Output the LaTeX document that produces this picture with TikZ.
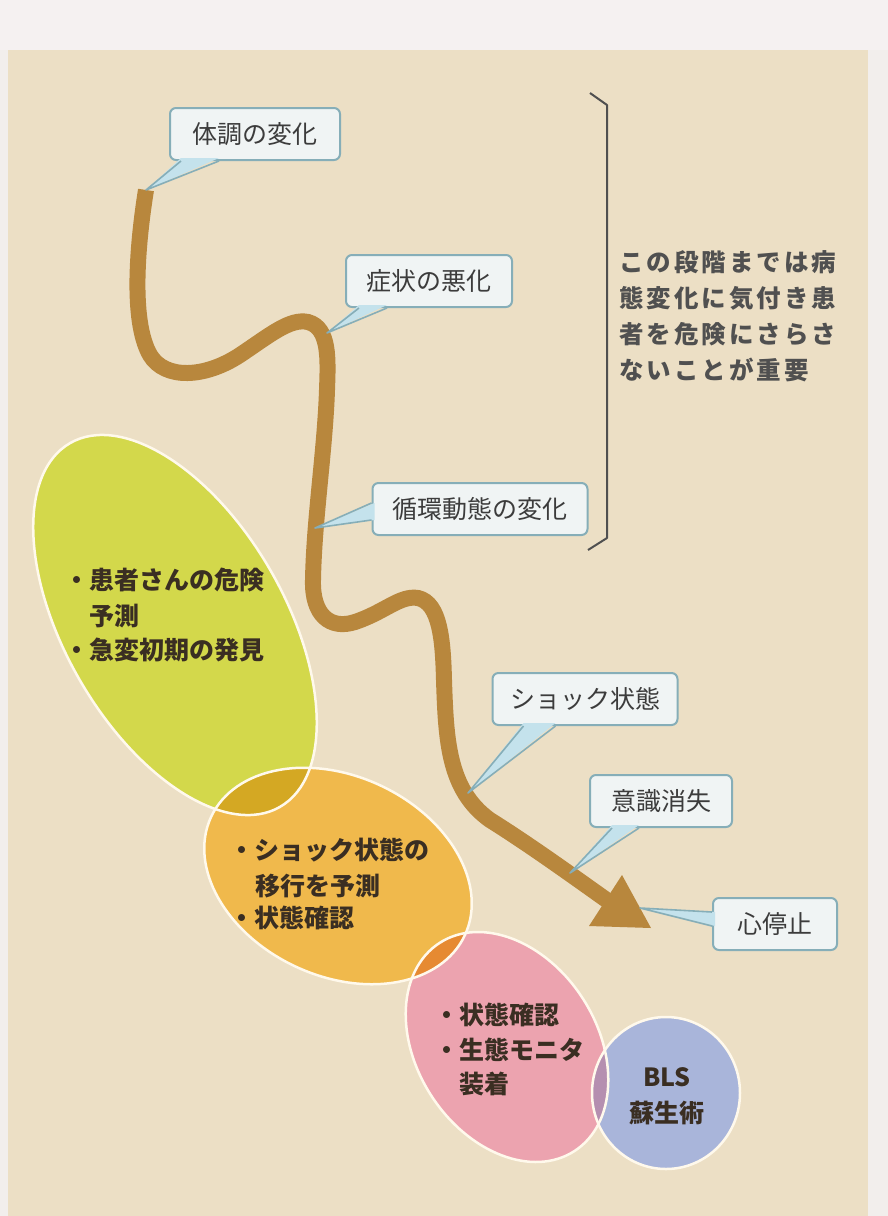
\documentclass[tikz,border=0pt]{standalone}
\usepackage{fontspec}
\newfontfamily\jp{Noto Sans CJK JP}
\usetikzlibrary{calc}
\definecolor{outerbg}{HTML}{F2EEEC}
\definecolor{topbg}{HTML}{F5F1F1}
\definecolor{panel}{HTML}{ECDFC5}
\definecolor{road}{HTML}{B8873D}
\definecolor{boxfill}{HTML}{F0F4F4}
\definecolor{boxline}{HTML}{86AEB8}
\definecolor{tailfill}{HTML}{C4E2EC}
\definecolor{gfill}{HTML}{D3D84B}
\definecolor{ofill}{HTML}{F0B94C}
\definecolor{pfill}{HTML}{ECA3AF}
\definecolor{bfill}{HTML}{A9B5DA}
\definecolor{gofill}{HTML}{D4A823}
\definecolor{opfill}{HTML}{E68A32}
\definecolor{pbfill}{HTML}{B58FB0}
\definecolor{txt}{HTML}{3C3C3C}
\definecolor{etxt}{HTML}{3A2E22}
\definecolor{brk}{HTML}{505050}
\definecolor{rim}{HTML}{FFF9EC}
\makeatletter
\def\lsp#1{\lsp@#1\relax}
\def\lsp@#1{\ifx\relax#1\else#1\kern3pt\expandafter\lsp@\fi}
\makeatother
\tikzset{
  callout/.style={draw=boxline, line width=2, fill=boxfill, rounded corners=6,
    inner sep=0, minimum height=52, font=\jp\fontsize{25}{25}\selectfont, text=txt},
  tailshape/.style={fill=tailfill},
  tailline/.style={draw=boxline, line width=1.6, line join=round},
  etext/.style={font=\jp\bfseries\fontsize{25}{25}\selectfont, text=etxt, inner sep=0, anchor=west},
  btext/.style={font=\jp\bfseries\fontsize{24.5}{24.5}\selectfont, text=brk, inner sep=0, anchor=west},
  rimline/.style={draw=rim, line width=2.5},
  gshape/.style={rotate around={-60:(175,625)}},
  oshape/.style={rotate around={-25:(338,876)}},
  pshape/.style={rotate around={-57:(507,1047)}},
}
\begin{document}
\begin{tikzpicture}[x=1pt,y=-1pt]
\useasboundingbox (0,0) rectangle (888,1216);
\fill[outerbg] (0,0) rectangle (888,1216);
\fill[topbg] (0,0) rectangle (888,50);
\fill[panel] (8,50) rectangle (868,1216);

% ellipses
\fill[gfill,gshape] (175,625) ellipse [x radius=210, y radius=110];
\fill[ofill,oshape] (338,876) ellipse [x radius=140, y radius=100];
\fill[pfill,pshape] (507,1047) ellipse [x radius=124, y radius=90];
\fill[bfill] (666,1093) ellipse [x radius=74, y radius=76];
\begin{scope}
  \clip[gshape] (175,625) ellipse [x radius=210, y radius=110];
  \fill[gofill,oshape] (338,876) ellipse [x radius=140, y radius=100];
\end{scope}
\begin{scope}
  \clip[oshape] (338,876) ellipse [x radius=140, y radius=100];
  \fill[opfill,pshape] (507,1047) ellipse [x radius=124, y radius=90];
\end{scope}
\begin{scope}
  \clip[pshape] (507,1047) ellipse [x radius=124, y radius=90];
  \fill[pbfill] (666,1093) ellipse [x radius=74, y radius=76];
\end{scope}
\draw[rimline,gshape] (175,625) ellipse [x radius=210, y radius=110];
\draw[rimline,oshape] (338,876) ellipse [x radius=140, y radius=100];
\draw[rimline,pshape] (507,1047) ellipse [x radius=124, y radius=90];
\draw[rimline] (666,1093) ellipse [x radius=74, y radius=76];

% road
\coordinate (r0) at (146,190);
\coordinate (r1) at (327,333);
\coordinate (r2) at (315,528);
\coordinate (r3) at (468,793);
\coordinate (r4) at (570,873);
\coordinate (rend) at (608,901);
\draw[road, line width=16, line cap=butt]
  (r0) .. controls (138,240) and (130,320) .. (150,355)
  .. controls (165,380) and (205,378) .. (240,355)
  .. controls (270,335) and (290,318) .. (308,322)
  .. controls (330,328) and (328,360) .. (327,390)
  .. controls (325,450) and (314,520) .. (313,580)
  .. controls (312,615) and (330,630) .. (355,622)
  .. controls (385,612) and (400,595) .. (418,598)
  .. controls (440,603) and (443,640) .. (444,680)
  .. controls (446,740) and (448,790) .. (490,820)
  .. controls (530,845) and (577,879) .. (rend);
\coordinate (a1) at (622,875);
\coordinate (a2) at (589,926);
\coordinate (a3) at (651,928);
\fill[road] (a1) -- (a3) -- (a2) -- cycle;

% callouts
\node[callout, minimum width=170] (c1) at (255,134) {体調の変化};
\node[callout, minimum width=166] (c2) at (429,281) {症状の悪化};
\node[callout, minimum width=215] (c3) at (480,509) {循環動態の変化};
\node[callout, minimum width=185] (c4) at (585,699) {ショック状態};
\node[callout, minimum width=142] (c5) at (661,801) {意識消失};
\node[callout, minimum width=124] (c6) at (775,924) {心停止};
\coordinate (t6) at (640,908);

% tails
\fill[tailshape] ($(c1.south west)+(12,-3)$) -- (r0) -- ($(c1.south west)+(50,-3)$) -- cycle;
\draw[tailline] ($(c1.south west)+(12,0)$) -- (r0) -- ($(c1.south west)+(50,0)$);
\fill[tailshape] ($(c2.south west)+(14,-3)$) -- (r1) -- ($(c2.south west)+(42,-3)$) -- cycle;
\draw[tailline] ($(c2.south west)+(14,0)$) -- (r1) -- ($(c2.south west)+(42,0)$);
\fill[tailshape] ($(c3.north west)+(3,21)$) -- (r2) -- ($(c3.north west)+(3,38)$) -- cycle;
\draw[tailline] ($(c3.north west)+(0,21)$) -- (r2) -- ($(c3.north west)+(0,38)$);
\fill[tailshape] ($(c4.south west)+(32,-3)$) -- (r3) -- ($(c4.south west)+(64,-3)$) -- cycle;
\draw[tailline] ($(c4.south west)+(32,0)$) -- (r3) -- ($(c4.south west)+(64,0)$);
\fill[tailshape] ($(c5.south west)+(23,-3)$) -- (r4) -- ($(c5.south west)+(50,-3)$) -- cycle;
\draw[tailline] ($(c5.south west)+(23,0)$) -- (r4) -- ($(c5.south west)+(50,0)$);
\fill[tailshape] ($(c6.north west)+(3,15)$) -- (t6) -- ($(c6.north west)+(3,29)$) -- cycle;
\draw[tailline] ($(c6.north west)+(0,15)$) -- (t6) -- ($(c6.north west)+(0,29)$);

% bracket
\coordinate (b0) at (590,93);
\coordinate (b1) at (607,105);
\coordinate (b2) at (607,538);
\coordinate (b3) at (588,550);
\draw[brk, line width=2, line join=round] (b0) -- (b1) -- (b2) -- (b3);
\node[btext] (n1) at (619,262) {\lsp{この段階までは病}};
\node[btext] (n2) at (619,298) {\lsp{態変化に気付き患}};
\node[btext] (n3) at (619,334) {\lsp{者を危険にさらさ}};
\node[btext] (n4) at (619,370) {\lsp{ないことが重要}};

% ellipse texts
\node[etext] (g1) at (64,580) {・患者さんの危険};
\node[etext] (g2) at (89,616) {予測};
\node[etext] (g3) at (64,650) {・急変初期の発見};
\node[etext] (o1) at (229,850) {・ショック状態の};
\node[etext] (o2) at (255,886) {移行を予測};
\node[etext] (o3) at (229,918) {・状態確認};
\node[etext] (p1) at (434,1015) {・状態確認};
\node[etext] (p2) at (434,1050) {・生態モニタ};
\node[etext] (p3) at (459,1084) {装着};
\node[etext, anchor=center] (q1) at (667,1077) {BLS};
\node[etext, anchor=center] (q2) at (667,1113) {蘇生術};
\end{tikzpicture}
\end{document}
